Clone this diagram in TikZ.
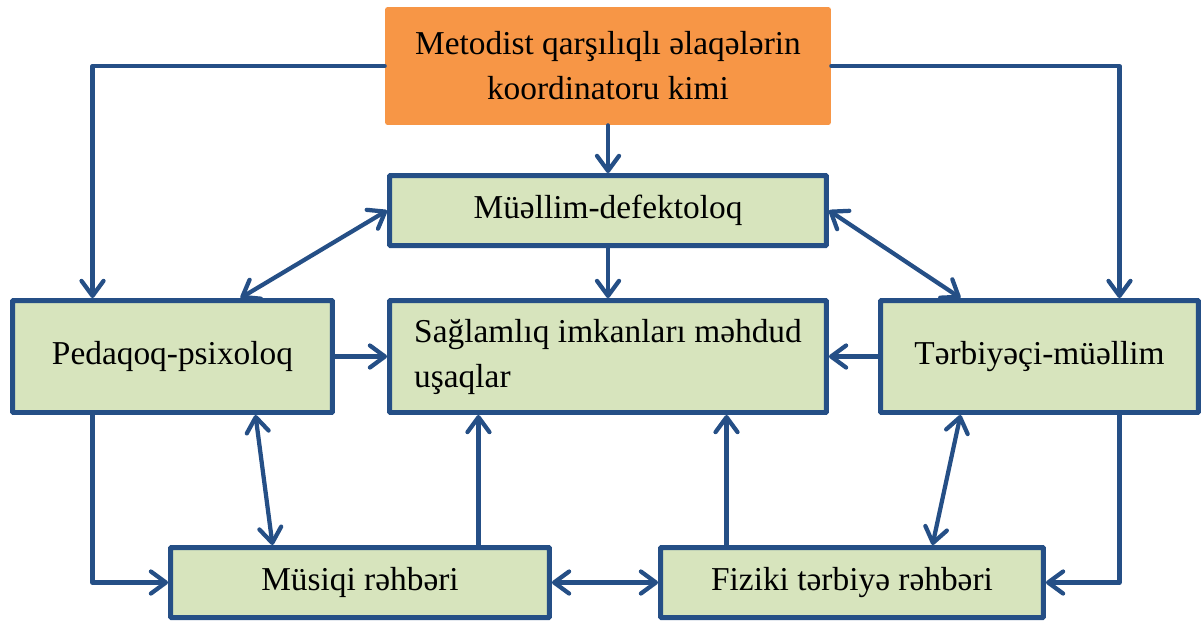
\documentclass[tikz,border=0pt]{standalone}
\usepackage{fontspec}
\setmainfont{Liberation Serif}
\usepackage{tikz}
\usetikzlibrary{arrows.meta}
\definecolor{DiagBlue}{HTML}{254F86}
\definecolor{DiagGreen}{HTML}{D7E4BD}
\definecolor{DiagOrange}{HTML}{F79646}
\definecolor{DiagInk}{HTML}{000000}

\begin{document}
\begin{tikzpicture}[
  x=0.02cm,y=-0.02cm,
  box/.style={draw=DiagBlue,fill=DiagGreen,line width=0.1cm,rounded corners=0.5pt,
    inner sep=0pt,align=center,font=\fontsize{19}{25.6}\selectfont,text=DiagInk},
  root/.style={fill=DiagOrange,rounded corners=1.5pt,minimum width=8.92cm,minimum height=2.36cm,
    inner sep=0pt,align=center,font=\fontsize{19}{25.6}\selectfont,text=DiagInk},
  line/.style={draw=DiagBlue,line width=0.085cm,line cap=round,line join=round,
    -{Straight Barb[length=3mm,width=4.4mm,round]}},
  both/.style={line,{Straight Barb[length=3mm,width=4.4mm,round]}-{Straight Barb[length=3mm,width=4.4mm,round]}}
]
\useasboundingbox (0,0) rectangle (1203,623);
\node[root] (coord) at (608,66) {Metodist qarşılıqlı əlaqələrin\\koordinatoru kimi};
\node[box,minimum width=8.74cm,minimum height=1.4cm] (defekt) at (608,210.5) {Müəllim-defektoloq};
\node[box,minimum width=6.4cm,minimum height=2.24cm] (psix) at (172.5,356.5) {Pedaqoq-psixoloq};
\node[box,minimum width=8.74cm,minimum height=2.24cm,align=left] (child) at (608,356.5) {Sağlamlıq imkanları məhdud\\uşaqlar};
\node[box,minimum width=6.36cm,minimum height=2.24cm] (tarb) at (1039.5,356.5) {Tərbiyəçi-müəllim};
\node[box,minimum width=7.58cm,minimum height=1.4cm] (music) at (360,582.5) {Müsiqi rəhbəri};
\node[box,minimum width=7.66cm,minimum height=1.4cm] (sport) at (852,582.5) {Fiziki tərbiyə rəhbəri};
% coordinator
\draw[line] (coord) -- (defekt);
\draw[line] (coord.west) -| ([xshift=1.65cm]psix.north west);
\draw[line] (coord.east) -| ([xshift=-1.63cm]tarb.north east);
% defectologist
\draw[both] (defekt.west) -- ([xshift=4.61cm]psix.north west);
\draw[both] (defekt.east) -- ([xshift=1.65cm]tarb.north west);
\draw[line] (defekt) -- (child);
% sides
\draw[line] (psix) -- (child);
\draw[line] (tarb) -- (child);
\draw[both] ([xshift=4.91cm]psix.south west) -- ([xshift=2.09cm]music.north west);
\draw[both] ([xshift=1.65cm]tarb.south west) -- ([xshift=5.49cm]sport.north west);
\draw[line] ([xshift=1.65cm]psix.south west) |- (music.west);
\draw[line] ([xshift=-1.63cm]tarb.south east) |- (sport.east);
% bottom row
\draw[line] ([xshift=6.21cm]music.north west) -- ([xshift=6.21cm]music.north west |- child.south);
\draw[line] ([xshift=1.37cm]sport.north west) -- ([xshift=1.37cm]sport.north west |- child.south);
\draw[both] (music) -- (sport);
\end{tikzpicture}
\end{document}
